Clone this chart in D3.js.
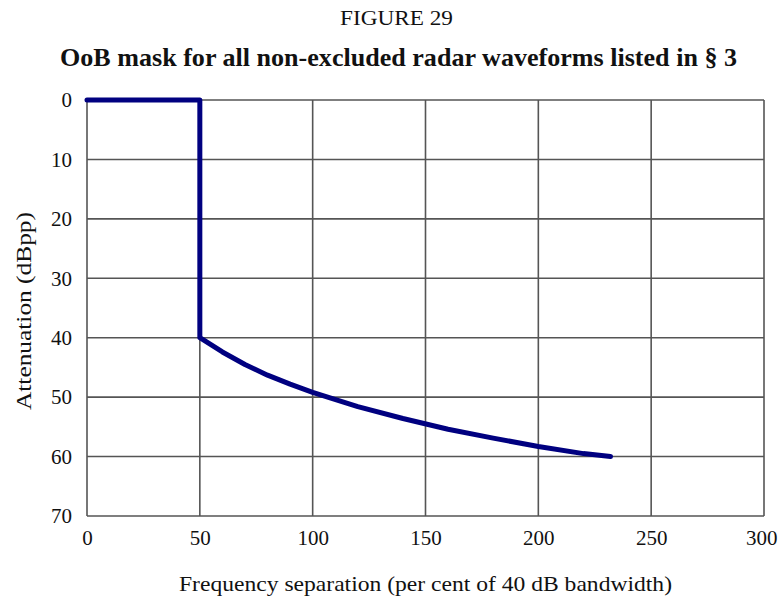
<!DOCTYPE html>
<html>
<head>
<meta charset="utf-8">
<script src="https://cdn.jsdelivr.net/npm/d3@7"></script>
<style>
  body { margin: 0; background: #fff; }
  text { font-family: "Liberation Serif", "Times New Roman", serif; fill: #111; }
</style>
</head>
<body>
<div id="chart"></div>
<script>
const Width = 780
const Height = 598

// mask: frequency separation (%) vs attenuation (dBpp)
const freq = [0, 50, 50, 60, 70, 80, 90, 100, 120, 140, 160, 180, 200, 220, 232]
const atten = [0, 0, 40, 42.4, 44.5, 46.3, 47.8, 49.2, 51.6, 53.6, 55.4, 56.9, 58.3, 59.5, 60]
const xTicks = [0, 50, 100, 150, 200, 250, 300]
const yTicks = [0, 10, 20, 30, 40, 50, 60, 70]

const margin = { left: 87, right: 16, top: 100, bottom: 82 }

const svg = d3.select('#chart')
    .append('svg')
    .attr('width', Width)
    .attr('height', Height)

const x = d3.scaleLinear()
    .domain([0, 300])
    .range([margin.left, Width - margin.right])

const y = d3.scaleLinear()
    .domain([0, 70])
    .range([margin.top, Height - margin.bottom])

// grid
svg.append('g')
    .selectAll('line')
    .data(xTicks)
    .enter().append('line')
    .attr('x1', d => x(d)).attr('x2', d => x(d))
    .attr('y1', y(0)).attr('y2', y(70))
    .attr('stroke', '#555').attr('stroke-width', 1.6)

svg.append('g')
    .selectAll('line')
    .data(yTicks)
    .enter().append('line')
    .attr('x1', x(0)).attr('x2', x(300))
    .attr('y1', d => y(d)).attr('y2', d => y(d))
    .attr('stroke', '#555').attr('stroke-width', 1.6)

// tick labels via axes
const xAxis = svg.append('g')
    .attr('transform', `translate(0,${y(70)})`)
    .call(d3.axisBottom(x).tickValues(xTicks).tickSize(0).tickPadding(14))
xAxis.select('.domain').remove()
xAxis.selectAll('text')
    .style('font-size', '21px')
    .style('font-family', '"Liberation Serif", serif')
    .attr('fill', '#111')
// last label sits just inside the page edge
xAxis.selectAll('text').filter(d => d === 300)
    .attr('text-anchor', 'end')
    .attr('dx', 13)

const yAxis = svg.append('g')
    .attr('transform', `translate(${x(0)},0)`)
    .call(d3.axisLeft(y).tickValues(yTicks).tickSize(0).tickPadding(15))
yAxis.select('.domain').remove()
yAxis.selectAll('text')
    .style('font-size', '21px')
    .style('font-family', '"Liberation Serif", serif')
    .attr('fill', '#111')

// mask line
const line = d3.line()
    .x(d => x(d[0]))
    .y(d => y(d[1]))
    .curve(d3.curveLinear)

svg.append('path')
    .datum(freq.map((f, i) => [f, atten[i]]))
    .attr('d', line)
    .attr('fill', 'none')
    .attr('stroke', '#000080')
    .attr('stroke-width', 5)
    .attr('stroke-linejoin', 'round')
    .attr('stroke-linecap', 'round')

// titles
svg.append('text')
    .attr('x', 340).attr('y', 25)
    .attr('textLength', 113)
    .attr('lengthAdjust', 'spacingAndGlyphs')
    .style('font-size', '20px')
    .text('FIGURE 29')

svg.append('text')
    .attr('x', 60).attr('y', 66)
    .attr('textLength', 677)
    .attr('lengthAdjust', 'spacingAndGlyphs')
    .style('font-size', '25px')
    .style('font-weight', 'bold')
    .text('OoB mask for all non-excluded radar waveforms listed in § 3')

svg.append('text')
    .attr('x', 179).attr('y', 591)
    .attr('textLength', 493)
    .attr('lengthAdjust', 'spacingAndGlyphs')
    .style('font-size', '21px')
    .text('Frequency separation (per cent of 40 dB bandwidth)')

svg.append('text')
    .attr('transform', `translate(31,311) rotate(-90)`)
    .attr('text-anchor', 'middle')
    .attr('textLength', 198)
    .attr('lengthAdjust', 'spacingAndGlyphs')
    .style('font-size', '22px')
    .text('Attenuation (dBpp)')
</script>
</body>
</html>
